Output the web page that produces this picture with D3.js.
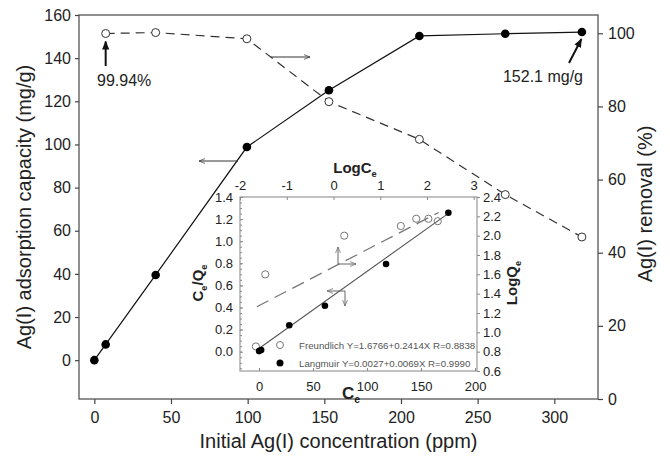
<!DOCTYPE html>
<html>
<head>
<meta charset="utf-8">
<script src="https://cdn.jsdelivr.net/npm/d3@7"></script>
<style>
  body { margin: 0; background: #fff; }
  svg { font-family: "Liberation Sans", Arial, sans-serif; }
  .tick text { fill: #222; }
</style>
</head>
<body>
<svg id="chart" width="670" height="460"></svg>
<script>
// main chart: initial concentration vs capacity / removal
var conc = [0, 7.4, 40, 99.5, 153, 212, 268, 318];
var capacity = [0, 7.3, 39.5, 98.8, 125.1, 150.3, 151.3, 152.1];
var removalConc = [7.4, 40, 99.5, 153, 212, 268, 318];
var removal = [99.94, 100.2, 98.5, 81.3, 71.0, 55.9, 44.3];

var xTicks = [0, 50, 100, 150, 200, 250, 300];
var yLeftTicks = [0, 20, 40, 60, 80, 100, 120, 140, 160];
var yRightTicks = [0, 20, 40, 60, 80, 100];

// inset: Langmuir (Ce vs Ce/Qe) and Freundlich (LogCe vs LogQe)
var langCe = [0.1, 2, 28, 61, 117.6, 175.3];
var langCeQe = [0.005, 0.015, 0.239, 0.416, 0.794, 1.258];
var langFitCe = [-2, 175.3];
var langFitCeQe = [0.015, 1.252];

var freLogCe = [-1.66, -1.46, 0.23, 1.44, 1.77, 2.03, 2.23];
var freLogQe = [0.854, 1.60, 2.0, 2.10, 2.175, 2.175, 2.15];
var freFitLogCe = [-1.64, 2.25];
var freFitLogQe = [1.265, 2.24];

var insetCeTicks = [0, 50, 100, 150, 200];
var insetLogCeTicks = [-2, -1, 0, 1, 2, 3];
var insetCeQeTicks = [0, 0.2, 0.4, 0.6, 0.8, 1.0, 1.2, 1.4];
var insetLogQeTicks = [0.6, 0.8, 1.0, 1.2, 1.4, 1.6, 1.8, 2.0, 2.2, 2.4];

var legendLabels = ["Freundlich Y=1.6766+0.2414X R=0.8838", "Langmuir Y=0.0027+0.0069X R=0.9990"];

(function() {
  var svg = d3.select("#chart");

  var defs = svg.append("defs");
  defs.append("marker").attr("id", "head-solid")
      .attr("viewBox", "0 0 10 10").attr("refX", 9).attr("refY", 5)
      .attr("markerWidth", 9).attr("markerHeight", 9).attr("orient", "auto")
      .attr("markerUnits", "userSpaceOnUse")
    .append("path").attr("d", "M0,1 L10,5 L0,9 Z").attr("fill", "#111");
  function openHead(id, color) {
    defs.append("marker").attr("id", id)
        .attr("viewBox", "0 0 10 10").attr("refX", 10).attr("refY", 5)
        .attr("markerWidth", 9).attr("markerHeight", 6).attr("orient", "auto")
        .attr("markerUnits", "userSpaceOnUse")
      .append("path").attr("d", "M0,1 L10,5 L0,9").attr("fill", "none")
        .attr("stroke", color).attr("stroke-width", 1.2);
  }
  openHead("head-open", "#333");
  openHead("head-open-gray", "#666");

  var mL = 79, mR = 598, mT = 15, mB = 399;
  var x = d3.scaleLinear().domain([-10, 328.5]).range([mL, mR]);
  var yL = d3.scaleLinear().domain([-18, 160]).range([mB, mT]);
  var yR = d3.scaleLinear().domain([0, 105]).range([mB, mT]);
  var plain = function(d) { return String(d); };

  // frame
  svg.append("rect").attr("x", mL).attr("y", mT)
     .attr("width", mR - mL).attr("height", mB - mT)
     .attr("fill", "none").attr("stroke", "#555").attr("stroke-width", 1.3);

  function styleAxis(g, size) {
    g.select(".domain").remove();
    g.selectAll(".tick line").attr("stroke", "#444").attr("stroke-width", 1.2);
    g.selectAll(".tick text").attr("font-size", size);
  }

  svg.append("g").attr("transform", "translate(0," + mB + ")")
     .call(d3.axisBottom(x).tickValues(xTicks).tickFormat(plain).tickSize(5).tickPadding(8))
     .call(styleAxis, 16);
  svg.append("g").attr("transform", "translate(" + mL + ",0)")
     .call(d3.axisLeft(yL).tickValues(yLeftTicks).tickFormat(plain).tickSize(4).tickPadding(4))
     .call(styleAxis, 16);
  svg.append("g").attr("transform", "translate(" + mR + ",0)")
     .call(d3.axisRight(yR).tickValues(yRightTicks).tickFormat(plain).tickSize(5).tickPadding(5))
     .call(styleAxis, 16);

  // axis titles
  svg.append("text").attr("x", (mL + mR) / 2).attr("y", 448)
     .attr("text-anchor", "middle").attr("font-size", 20).attr("fill", "#222")
     .text("Initial Ag(I) concentration (ppm)");
  svg.append("text").attr("transform", "translate(31,207) rotate(-90)")
     .attr("text-anchor", "middle").attr("font-size", 20).attr("fill", "#222")
     .text("Ag(I) adsorption capacity (mg/g)");
  svg.append("text").attr("transform", "translate(652,204) rotate(-90)")
     .attr("text-anchor", "middle").attr("font-size", 20).attr("fill", "#222")
     .text("Ag(I) removal (%)");

  // removal series (dashed, open circles)
  var remPts = removalConc.map(function(c, i) { return [x(c), yR(removal[i])]; });
  svg.append("path").attr("d", d3.line()(remPts))
     .attr("fill", "none").attr("stroke", "#333").attr("stroke-width", 1.2)
     .attr("stroke-dasharray", "9,6");
  svg.selectAll("circle.rem").data(remPts).enter().append("circle")
     .attr("class", "rem").attr("cx", function(d) { return d[0]; })
     .attr("cy", function(d) { return d[1]; }).attr("r", 4)
     .attr("fill", "#fff").attr("stroke", "#333").attr("stroke-width", 1);

  // capacity series (solid, filled circles)
  var capPts = conc.map(function(c, i) { return [x(c), yL(capacity[i])]; });
  svg.append("path").attr("d", d3.line()(capPts))
     .attr("fill", "none").attr("stroke", "#111").attr("stroke-width", 1.2);
  svg.selectAll("circle.cap").data(capPts).enter().append("circle")
     .attr("class", "cap").attr("cx", function(d) { return d[0]; })
     .attr("cy", function(d) { return d[1]; }).attr("r", 4.3).attr("fill", "#000");

  // annotations
  svg.append("line").attr("x1", remPts[0][0]).attr("y1", 66)
     .attr("x2", remPts[0][0]).attr("y2", remPts[0][1] + 8)
     .attr("stroke", "#111").attr("stroke-width", 2).attr("marker-end", "url(#head-solid)");
  svg.append("text").attr("x", 97).attr("y", 86).attr("font-size", 16).attr("fill", "#222")
     .text("99.94%");
  var lastCap = capPts[capPts.length - 1];
  svg.append("line").attr("x1", 569).attr("y1", 63)
     .attr("x2", lastCap[0] - 0.5).attr("y2", lastCap[1] + 7)
     .attr("stroke", "#111").attr("stroke-width", 2).attr("marker-end", "url(#head-solid)");
  svg.append("text").attr("x", 583).attr("y", 82).attr("text-anchor", "end")
     .attr("font-size", 16).attr("fill", "#222").text("152.1 mg/g");

  svg.append("line").attr("x1", 238).attr("y1", 161).attr("x2", 199).attr("y2", 161)
     .attr("stroke", "#333").attr("stroke-width", 1).attr("marker-end", "url(#head-open)");
  svg.append("line").attr("x1", 271).attr("y1", 57).attr("x2", 310).attr("y2", 57)
     .attr("stroke", "#333").attr("stroke-width", 1).attr("marker-end", "url(#head-open)");

  // ---------- inset ----------
  var iL = 240, iR = 477, iT = 197, iB = 371;
  var ix = d3.scaleLinear().domain([-17.6, 201.8]).range([iL, iR]);
  var ixTop = d3.scaleLinear().domain([-2, 3.07]).range([iL, iR]);
  var iyL = d3.scaleLinear().domain([-0.175, 1.4]).range([iB, iT]);
  var iyR = d3.scaleLinear().domain([0.6, 2.4]).range([iB, iT]);
  var oneDec = function(d) { return d.toFixed(1); };

  var inset = svg.append("g");
  inset.append("rect").attr("x", iL).attr("y", iT).attr("width", iR - iL).attr("height", iB - iT)
     .attr("fill", "#fff").attr("stroke", "#999").attr("stroke-width", 1.2);

  function styleInset(g) {
    g.select(".domain").remove();
    g.selectAll(".tick line").attr("stroke", "#888").attr("stroke-width", 1);
    g.selectAll(".tick text").attr("font-size", 13);
  }
  inset.append("g").attr("transform", "translate(0," + iB + ")")
     .call(d3.axisBottom(ix).tickValues(insetCeTicks).tickFormat(plain).tickSize(-3).tickPadding(11))
     .call(styleInset);
  inset.append("g").attr("transform", "translate(0," + iT + ")")
     .call(d3.axisTop(ixTop).tickValues(insetLogCeTicks).tickFormat(plain).tickSize(-3).tickPadding(7))
     .call(styleInset);
  inset.append("g").attr("transform", "translate(" + iL + ",0)")
     .call(d3.axisLeft(iyL).tickValues(insetCeQeTicks).tickFormat(oneDec).tickSize(-3).tickPadding(7))
     .call(styleInset);
  inset.append("g").attr("transform", "translate(" + iL + ",0)")
     .call(d3.axisLeft(iyL).tickValues(d3.range(-0.15, 1.4, 0.05)).tickFormat("").tickSize(-2))
     .call(styleInset);
  inset.append("g").attr("transform", "translate(" + iR + ",0)")
     .call(d3.axisRight(iyR).tickValues(insetLogQeTicks).tickFormat(oneDec).tickSize(3).tickPadding(3))
     .call(styleInset);

  // inset titles with subscript e
  var sub = function(sel, base, s, size, tail) {
    sel.append("tspan").text(base);
    sel.append("tspan").attr("font-size", size * 0.62).attr("dy", size * 0.25).text(s);
    if (tail) {
      sel.append("tspan").attr("dy", -size * 0.25).text(tail[0]);
      sel.append("tspan").attr("font-size", size * 0.62).attr("dy", size * 0.25).text(tail[1]);
    }
  };
  inset.append("text").attr("x", 355).attr("y", 173).attr("text-anchor", "middle")
     .attr("font-size", 15).attr("font-weight", "bold").attr("fill", "#222")
     .call(sub, "LogC", "e", 15);
  inset.append("text").attr("transform", "translate(203,283) rotate(-90)").attr("text-anchor", "middle")
     .attr("font-size", 15).attr("font-weight", "bold").attr("fill", "#222")
     .call(sub, "C", "e", 15, ["/Q", "e"]);
  inset.append("text").attr("transform", "translate(517,283) rotate(-90)").attr("text-anchor", "middle")
     .attr("font-size", 15).attr("font-weight", "bold").attr("fill", "#222")
     .call(sub, "LogQ", "e", 15);
  inset.append("text").attr("x", 351).attr("y", 399).attr("text-anchor", "middle")
     .attr("font-size", 17).attr("font-weight", "bold").attr("fill", "#222")
     .call(sub, "C", "e", 17);

  // fit lines
  inset.append("path")
     .attr("d", d3.line()(freFitLogCe.map(function(v, i) { return [ixTop(v), iyR(freFitLogQe[i])]; })))
     .attr("fill", "none").attr("stroke", "#777").attr("stroke-width", 1.3).attr("stroke-dasharray", "13,7");
  inset.append("path")
     .attr("d", d3.line()(langFitCe.map(function(v, i) { return [ix(v), iyL(langFitCeQe[i])]; })))
     .attr("fill", "none").attr("stroke", "#555").attr("stroke-width", 1.1);

  inset.selectAll("circle.fre").data(freLogCe).enter().append("circle")
     .attr("class", "fre").attr("cx", function(d) { return ixTop(d); })
     .attr("cy", function(d, i) { return iyR(freLogQe[i]); }).attr("r", 3.6)
     .attr("fill", "none").attr("stroke", "#777").attr("stroke-width", 1);
  inset.selectAll("circle.lang").data(langCe).enter().append("circle")
     .attr("class", "lang").attr("cx", function(d) { return ix(d); })
     .attr("cy", function(d, i) { return iyL(langCeQe[i]); }).attr("r", 3.3).attr("fill", "#000");

  // inset direction arrows
  function arrow(x1, y1, x2, y2) {
    inset.append("line").attr("x1", x1).attr("y1", y1).attr("x2", x2).attr("y2", y2)
       .attr("stroke", "#666").attr("stroke-width", 1).attr("marker-end", "url(#head-open-gray)");
  }
  arrow(338, 264, 338, 247);
  arrow(338, 264, 356, 264);
  arrow(345, 291, 327, 291);
  arrow(345, 291, 345, 306);

  // legend
  var legend = inset.selectAll("g.leg").data(legendLabels).enter().append("g")
     .attr("transform", function(d, i) { return "translate(280," + (345 + i * 18) + ")"; });
  legend.append("circle").attr("r", 3.5)
     .attr("fill", function(d, i) { return i ? "#000" : "none"; })
     .attr("stroke", function(d, i) { return i ? "none" : "#777"; });
  legend.append("text").attr("x", 19).attr("y", 3.5).attr("font-size", 9.7).attr("fill", "#555")
     .text(function(d) { return d; });
})();
</script>
</body>
</html>
